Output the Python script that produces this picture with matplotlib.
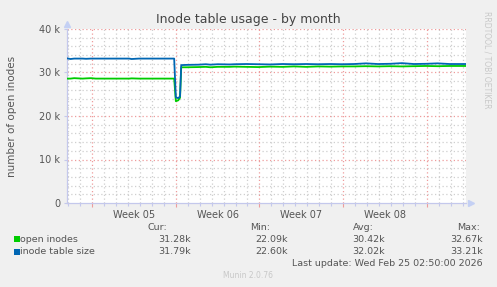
import matplotlib
matplotlib.use('Agg')
import matplotlib.pyplot as plt

# time axis in days from the left edge of the graph
days = [0, 0.3, 0.6, 1.3, 1.6, 2.0, 2.4, 3.0, 4.0, 5.2, 5.4, 6.0, 7.0, 8.0, 8.96,
        9.1, 9.3, 9.45, 9.55, 10.0, 11.0, 11.6, 12.0, 12.6, 13.6, 14.0, 15.0,
        16.0, 17.0, 18.0, 19.0, 20.0, 21.0, 22.0, 23.0, 24.0, 25.0, 26.0, 27.0,
        28.0, 29.0, 30.0, 31.0, 32.0, 33.36]
open_inodes = [28.6, 28.6, 28.7, 28.6, 28.65, 28.7, 28.6, 28.6, 28.6, 28.6,
               28.65, 28.6, 28.6, 28.6, 28.6, 23.4, 23.6, 24.2, 31.2, 31.2,
               31.25, 31.3, 31.2, 31.3, 31.3, 31.35, 31.3, 31.25, 31.35, 31.3,
               31.4, 31.3, 31.4, 31.35, 31.4, 31.4, 31.45, 31.4, 31.45, 31.4,
               31.45, 31.5, 31.45, 31.5, 31.5]
inode_table = [33.25, 33.1, 33.2, 33.2, 33.15, 33.2, 33.2, 33.2, 33.2, 33.2,
               33.1, 33.2, 33.2, 33.2, 33.2, 24.3, 24.1, 24.5, 31.7, 31.75,
               31.8, 31.9, 31.8, 31.9, 31.85, 31.9, 31.95, 31.9, 31.85, 31.95,
               31.9, 31.95, 31.9, 31.95, 31.9, 31.95, 32.1, 31.95, 32.0, 32.15,
               31.95, 32.0, 32.1, 31.95, 31.95]

series_names = ['open inodes', 'inode table size']
series_colors = ['#00CC00', '#0066B3']
cur_vals = ['31.28k', '31.79k']
min_vals = ['22.09k', '22.60k']
avg_vals = ['30.42k', '32.02k']
max_vals = ['32.67k', '33.21k']
week_labels = ['Week 05', 'Week 06', 'Week 07', 'Week 08']
y_ticks = [0, 10000, 20000, 30000, 40000]
y_labels = ['0', '10 k', '20 k', '30 k', '40 k']

W, H = 497, 287
fig = plt.figure(figsize=(W / 100, H / 100), dpi=100)
fig.patch.set_facecolor('#F0F0F0')

left, right, top, bottom = 67, 466, 29, 203
ax = fig.add_axes([left / W, 1 - bottom / H, (right - left) / W, (bottom - top) / H])
ax.set_facecolor('white')
x_end = 33.36
ax.set_xlim(0, x_end)
ax.set_ylim(0, 40000)

first_week = 2.09
week_lines = [first_week + 7 * i for i in range(5)]
day_lines = [first_week + d for d in range(-2, 32) if 0 < first_week + d <= x_end + 0.01]

grid_minor = '#CFCFCF'
grid_major = '#EE9C9C'
for d in day_lines:
    if d not in week_lines:
        ax.axvline(d, color=grid_minor, lw=0.9, ls=(0, (1, 2)), zorder=1)
ax.axvline(x_end, color=grid_minor, lw=0.9, ls=(0, (1, 2)), zorder=1)
for v in range(2000, 40001, 2000):
    if v % 10000:
        ax.axhline(v, color=grid_minor, lw=0.9, ls=(0, (1, 2)), zorder=1)
for d in week_lines:
    ax.axvline(d, color=grid_major, lw=0.9, ls=(0, (1, 2)), zorder=1.5)
for v in y_ticks[1:]:
    ax.axhline(v, color=grid_major, lw=0.9, ls=(0, (1, 2)), zorder=1.5)

ax.plot(days, [v * 1000 for v in open_inodes], color=series_colors[0], lw=1.3, zorder=3)
ax.plot(days, [v * 1000 for v in inode_table], color=series_colors[1], lw=1.3, zorder=4)

for s in ['top', 'right']:
    ax.spines[s].set_visible(False)
for s in ['left', 'bottom']:
    ax.spines[s].set_color('#C4C8EC')
    ax.spines[s].set_linewidth(0.9)

ax.set_xticks(week_lines)
ax.set_xticks(day_lines, minor=True)
ax.set_xticklabels([])
ax.tick_params(axis='x', which='major', color='#EE9C9C', length=3, width=0.8)
ax.tick_params(axis='x', which='minor', color='#C4C8EC', length=2, width=0.8)
ax.set_yticks(y_ticks)
ax.set_yticklabels(y_labels, fontsize=7, color='#555555')
ax.tick_params(axis='y', which='major', color='#C4C8EC', length=2, width=0.8, pad=3)

for i, lbl in enumerate(week_labels):
    mid = (week_lines[i] + week_lines[i + 1]) / 2
    ax.text(mid, -0.04, lbl, transform=ax.get_xaxis_transform(), ha='center',
            va='top', fontsize=7, color='#555555')

# axis arrows
ax.plot([0], [41200], marker='^', color='#C4D0F4', ms=4, clip_on=False, zorder=5)
ax.plot([x_end + 0.4], [0], marker='>', color='#C4D0F4', ms=4, clip_on=False, zorder=5)


def px(x, y):
    return x / W, 1 - y / H


fig.text(*px(248, 20), 'Inode table usage - by month', ha='center', va='center',
         fontsize=9, color='#444444')
fig.text(*px(12, 116), 'number of open inodes', ha='center', va='center',
         rotation=90, fontsize=7.5, color='#555555')
fig.text(*px(487, 60), 'RRDTOOL / TOBI OETIKER', ha='center', va='center',
         rotation=270, fontsize=5.5, color='#C8C8C8')

fs = 6.8
tc = '#555555'
fig.text(*px(148, 227), 'Cur:', ha='left', va='center', fontsize=fs, color=tc)
fig.text(*px(250, 227), 'Min:', ha='left', va='center', fontsize=fs, color=tc)
fig.text(*px(353, 227), 'Avg:', ha='left', va='center', fontsize=fs, color=tc)
fig.text(*px(457, 227), 'Max:', ha='left', va='center', fontsize=fs, color=tc)
for i, name in enumerate(series_names):
    y = 239 + 12.5 * i
    fig.patches.append(plt.Rectangle(px(14, y + 3), 6 / W, 6 / H,
                                     transform=fig.transFigure,
                                     facecolor=series_colors[i], edgecolor='none'))
    fig.text(*px(20.5, y), name, ha='left', va='center', fontsize=fs, color=tc)
    fig.text(*px(191, y), cur_vals[i], ha='right', va='center', fontsize=fs, color=tc)
    fig.text(*px(288, y), min_vals[i], ha='right', va='center', fontsize=fs, color=tc)
    fig.text(*px(385, y), avg_vals[i], ha='right', va='center', fontsize=fs, color=tc)
    fig.text(*px(483, y), max_vals[i], ha='right', va='center', fontsize=fs, color=tc)

fig.text(*px(483, 264), 'Last update: Wed Feb 25 02:50:00 2026', ha='right',
         va='center', fontsize=fs, color=tc)
fig.text(*px(248, 276), 'Munin 2.0.76', ha='center', va='center',
         fontsize=5.5, color='#C8C8C8')

fig.savefig('out.png', dpi=100, facecolor=fig.get_facecolor())
